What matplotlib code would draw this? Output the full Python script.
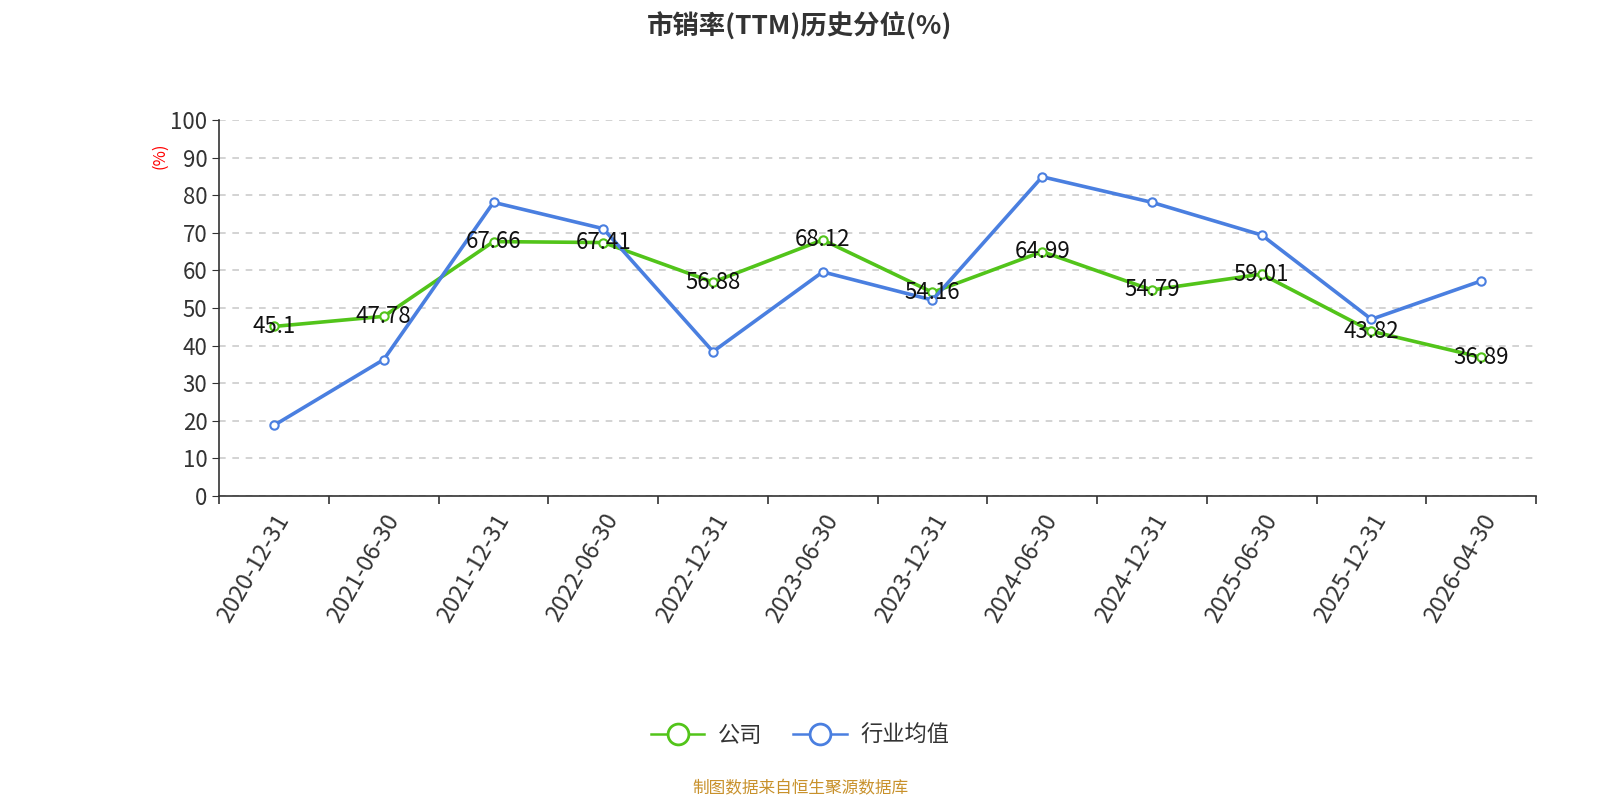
import matplotlib
matplotlib.use('Agg')
import matplotlib.pyplot as plt
from matplotlib.lines import Line2D
import numpy as np

plt.rcParams['font.family'] = ['Noto Sans CJK SC', 'DejaVu Sans']

# data
dates = ['2020-12-31', '2021-06-30', '2021-12-31', '2022-06-30', '2022-12-31', '2023-06-30',
         '2023-12-31', '2024-06-30', '2024-12-31', '2025-06-30', '2025-12-31', '2026-04-30']
company = [45.1, 47.78, 67.66, 67.41, 56.88, 68.12, 54.16, 64.99, 54.79, 59.01, 43.82, 36.89]
industry = [18.8, 36.3, 78.1, 71.1, 38.4, 59.6, 52.1, 84.9, 78.1, 69.4, 47.0, 57.2]

green = '#52c41a'
blue = '#4a7fe0'

fig = plt.figure(figsize=(16, 8), dpi=100)
ax = fig.add_axes([0.137, 0.38, 0.823, 0.47])

x = np.arange(len(dates))
ax.plot(x, company, color=green, lw=2.6, marker='o', ms=6, mfc='white', mec=green, mew=1.5,
        zorder=3)
ax.plot(x, industry, color=blue, lw=2.6, marker='o', ms=6, mfc='white', mec=blue, mew=1.5,
        zorder=3)

for xi, v in zip(x, company):
    ax.text(xi, v, f'{v:g}', ha='center', va='center', fontsize=16, color='#111111', zorder=4)

ax.set_xlim(-0.5, len(dates) - 0.5)
ax.set_ylim(0, 100)
ax.set_yticks(range(0, 101, 10))
ax.tick_params(axis='y', labelsize=16, colors='#333333', length=5, direction='out')
ax.grid(axis='y', color='#cccccc', linestyle=(0, (4, 4)), lw=1.2)
ax.set_axisbelow(True)

ax.set_xticks(x)
ax.set_xticklabels(dates, rotation=60, ha='right', va='top', rotation_mode='anchor', fontsize=17,
                   color='#333333')
ax.tick_params(axis='x', which='major', length=0, pad=10)
ax.set_xticks(np.arange(-0.5, len(dates), 1), minor=True)
ax.tick_params(axis='x', which='minor', length=6, color='#333333', width=1.2)

for s in ['top', 'right']:
    ax.spines[s].set_visible(False)
ax.spines['left'].set_color('#333333')
ax.spines['bottom'].set_color('#333333')
ax.spines['left'].set_linewidth(1.2)
ax.spines['bottom'].set_linewidth(1.2)

ax.text(-0.045, 0.905, '(%)', transform=ax.transAxes, rotation=90, color='red', fontsize=12,
        ha='center', va='center')

fig.text(0.5, 0.967, '市销率(TTM)历史分位(%)', ha='center', va='center', fontsize=19,
         fontweight='bold', color='#333333')

handles = [Line2D([], [], color=green, lw=1.8, marker='o', ms=15, mfc='white', mec=green, mew=2),
           Line2D([], [], color=blue, lw=1.8, marker='o', ms=15, mfc='white', mec=blue, mew=2)]
fig.legend(handles, ['公司', '行业均值'], loc='center', bbox_to_anchor=(0.5, 0.081), ncol=2,
           frameon=False, fontsize=16, handlelength=2.4, columnspacing=1.4, handletextpad=0.6,
           labelcolor='#333333')

fig.text(0.5, 0.014, '制图数据来自恒生聚源数据库', ha='center', va='center', fontsize=12,
         color='#c8912b')

fig.savefig('out.png', dpi=100)
